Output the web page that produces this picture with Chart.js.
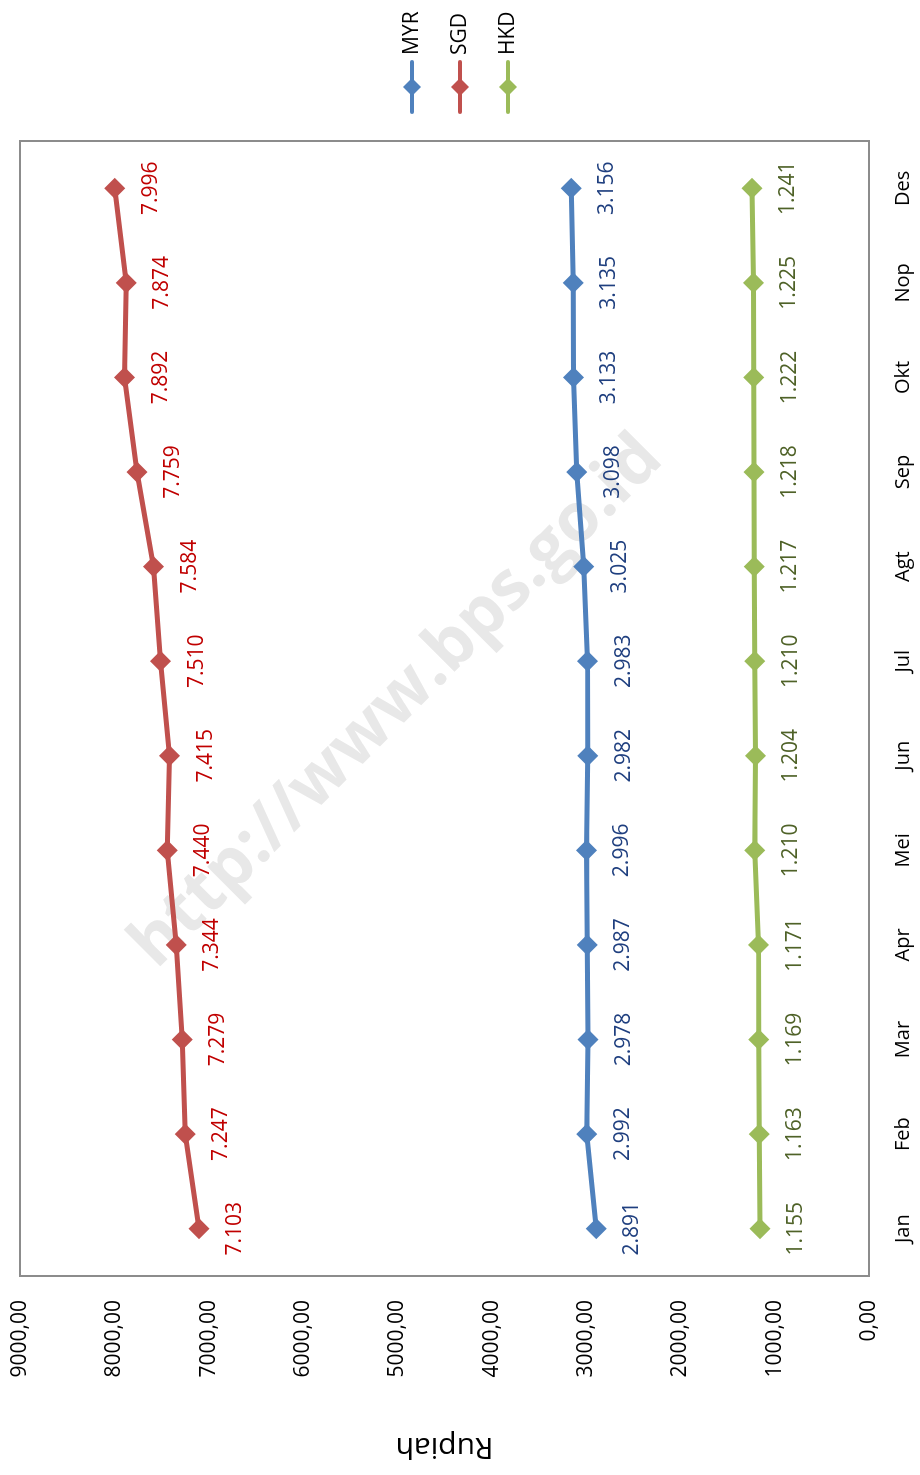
<!DOCTYPE html>
<html>
<head>
<meta charset="utf-8">
<script src="https://cdn.jsdelivr.net/npm/chart.js@4.4.1/dist/chart.umd.min.js"></script>
<style>
  html, body { margin: 0; padding: 0; background: #fff; overflow: hidden; }
  #wrap {
    position: absolute; left: 0; top: 0;
    width: 1475px; height: 920px;
    transform-origin: 0 0;
    transform: translateY(1475px) rotate(-90deg);
  }
</style>
</head>
<body>
<div id="wrap"><canvas id="kurs" width="1475" height="920"></canvas></div>
<script>
// kurs tengah rupiah per mata uang asing, per bulan
const months = ["Jan", "Feb", "Mar", "Apr", "Mei", "Jun", "Jul", "Agt", "Sep", "Okt", "Nop", "Des"];
const myr = [2891, 2992, 2978, 2987, 2996, 2982, 2983, 3025, 3098, 3133, 3135, 3156];
const sgd = [7103, 7247, 7279, 7344, 7440, 7415, 7510, 7584, 7759, 7892, 7874, 7996];
const hkd = [1155, 1163, 1169, 1171, 1210, 1204, 1210, 1217, 1218, 1222, 1225, 1241];
const yTicks = [0, 1000, 2000, 3000, 4000, 5000, 6000, 7000, 8000, 9000];

const FONT = "'Open Sans', 'DejaVu Sans', sans-serif";

// 7103 -> "7.103"
const fmtDot = (v) => String(Math.round(v)).replace(/\B(?=(\d{3})+(?!\d))/g, ".");

const series = [
  { label: "MYR", data: myr, color: "#4F81BD", labelColor: "#1F3F7F" },
  { label: "SGD", data: sgd, color: "#C0504D", labelColor: "#C00000" },
  { label: "HKD", data: hkd, color: "#9BBB59", labelColor: "#4F6228" }
];

// kotak plot + watermark
const frameAndMark = {
  id: "frameAndMark",
  beforeDatasetsDraw(chart) {
    const { ctx, chartArea: a } = chart;
    ctx.save();
    ctx.translate(773, 397);
    ctx.rotate(Math.PI / 4);
    ctx.fillStyle = "#E8E8E8";
    ctx.font = "bold 68px " + FONT;
    ctx.textAlign = "center";
    ctx.textBaseline = "middle";
    ctx.fillText("http://www.bps.go.id", 0, 0);
    ctx.restore();

    ctx.save();
    ctx.strokeStyle = "#8C8C8C";
    ctx.lineWidth = 2;
    ctx.strokeRect(a.left, a.top, a.right - a.left, a.bottom - a.top);
    ctx.restore();
  }
};

// label nilai di bawah titik
const valueLabels = {
  id: "valueLabels",
  afterDatasetsDraw(chart) {
    const { ctx } = chart;
    ctx.save();
    ctx.font = "21px " + FONT;
    ctx.textAlign = "center";
    ctx.textBaseline = "middle";
    chart.data.datasets.forEach((ds, i) => {
      const meta = chart.getDatasetMeta(i);
      ctx.fillStyle = series[i].labelColor;
      meta.data.forEach((pt, j) => {
        ctx.fillText(fmtDot(ds.data[j]), pt.x, pt.y + 36);
      });
    });
    ctx.restore();
  }
};

// legenda gaya excel: garis + belah ketupat
const excelLegend = {
  id: "excelLegend",
  afterDraw(chart) {
    const { ctx } = chart;
    ctx.save();
    ctx.font = "21px " + FONT;
    ctx.textBaseline = "middle";
    ctx.textAlign = "left";
    series.forEach((s, i) => {
      const y = 412 + 48 * i;
      ctx.strokeStyle = s.color;
      ctx.lineWidth = 4;
      ctx.lineCap = "round";
      ctx.beginPath();
      ctx.moveTo(1363, y);
      ctx.lineTo(1413, y);
      ctx.stroke();
      ctx.fillStyle = s.color;
      ctx.beginPath();
      ctx.moveTo(1388 - 9, y);
      ctx.lineTo(1388, y - 9);
      ctx.lineTo(1388 + 9, y);
      ctx.lineTo(1388, y + 9);
      ctx.closePath();
      ctx.fill();
      ctx.fillStyle = "#000";
      ctx.fillText(s.label, 1420, y);
    });
    ctx.restore();
  }
};

new Chart(document.getElementById("kurs"), {
  type: "line",
  data: {
    labels: months,
    datasets: series.map(s => ({
      label: s.label,
      data: s.data,
      borderColor: s.color,
      backgroundColor: s.color,
      borderWidth: 5,
      pointStyle: "rectRot",
      pointRadius: 10.5,
      pointBorderWidth: 0,
      pointBackgroundColor: s.color,
      tension: 0
    }))
  },
  options: {
    responsive: false,
    animation: false,
    layout: { padding: { top: 20, right: 141, left: 0, bottom: 0 } },
    plugins: {
      legend: { display: false },
      tooltip: { enabled: false }
    },
    scales: {
      x: {
        offset: true,
        grid: { display: false, drawTicks: false },
        border: { display: false },
        ticks: { color: "#000", font: { family: FONT, size: 20 }, padding: 22, maxRotation: 0 },
        afterFit(scale) {
          scale.height = 51;
          scale.paddingLeft = 0;
          scale.paddingRight = 0;
        }
      },
      y: {
        min: 0,
        max: 9000,
        grid: { display: false, drawTicks: false },
        border: { display: false },
        afterBuildTicks(scale) { scale.ticks = yTicks.map(v => ({ value: v })); },
        ticks: {
          color: "#000",
          font: { family: FONT, size: 21 },
          padding: 24,
          callback: (v) => v.toFixed(2).replace(".", ",")
        },
        title: {
          display: true,
          text: "Rupiah",
          color: "#000",
          font: { family: FONT, size: 30 },
          padding: { top: 10, bottom: 0 }
        },
        afterFit(scale) {
          scale.width = 199;
          scale.paddingTop = 0;
          scale.paddingBottom = 0;
        }
      }
    }
  },
  plugins: [frameAndMark, valueLabels, excelLegend]
});
</script>
</body>
</html>
